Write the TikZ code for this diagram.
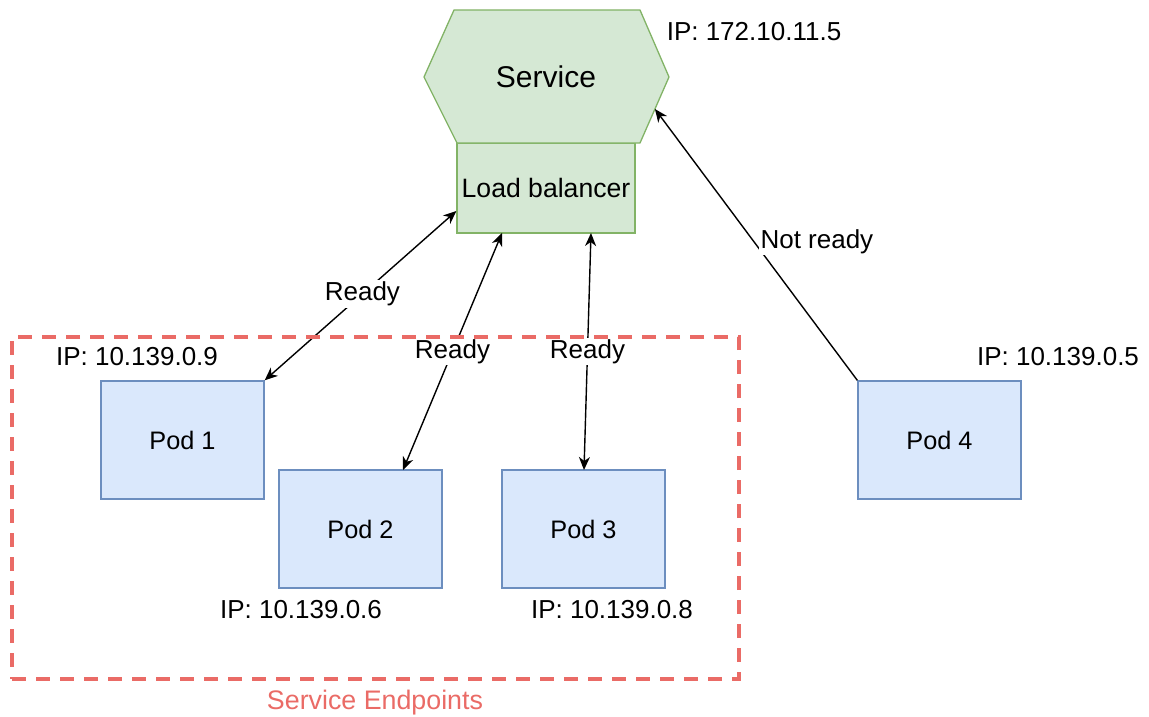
\documentclass[tikz,border=0pt]{standalone}
\usepackage{fontspec}
\setmainfont{Liberation Sans}
\usetikzlibrary{arrows.meta,calc}

\definecolor{lbfill}{HTML}{D5E8D4}
\definecolor{lbline}{HTML}{82B366}
\definecolor{podfill}{HTML}{DAE8FC}
\definecolor{podline}{HTML}{6C8EBF}
\definecolor{epred}{HTML}{EA6B66}

\tikzset{
  x=1pt, y=-1pt,
  podbox/.style={draw=podline, fill=podfill, line width=1.3pt, inner sep=0pt,
                 minimum width=163pt, minimum height=118pt,
                 font=\fontsize{25.3}{30}\selectfont},
  greenbox/.style={draw=lbline, fill=lbfill, line width=1.3pt},
  iplabel/.style={inner sep=0pt, font=\fontsize{26}{31}\selectfont},
  edgelabel/.style={fill=white, inner sep=1.5pt, font=\fontsize{26}{31}\selectfont},
  link/.style={line width=1.4pt, black, >={Stealth[length=13pt, width=11pt, inset=4pt]}},
}

\begin{document}
\begin{tikzpicture}
\useasboundingbox (0,0) rectangle (1149,717);

% Load balancer below the service hexagon
\node[greenbox, minimum width=178pt, minimum height=90pt, inner sep=0pt,
      font=\fontsize{26.6}{31}\selectfont] (lb) at (546,188) {Load balancer};

% Service hexagon
\coordinate (h1) at (424,77);
\coordinate (h2) at (454,10);
\coordinate (h3) at (640,10);
\coordinate (h4) at (669,77);
\coordinate (h5) at (640,143);
\coordinate (h6) at (457,143);
\filldraw[greenbox] (h1) -- (h2) -- (h3) -- (h4) -- (h5) -- (h6) -- cycle;
\node[font=\fontsize{30}{36}\selectfont, inner sep=0pt] (svc) at (546,77) {Service};
\coordinate (svcport) at ($(h4)!0.485!(h5)$);

\node[iplabel] (svcip) at (754,32) {IP: 172.10.11.5};

% Pods
\node[podbox] (pod1) at (182.5,440) {Pod 1};
\node[podbox] (pod2) at (360.5,529) {Pod 2};
\node[podbox] (pod3) at (583.5,529) {Pod 3};
\node[podbox] (pod4) at (939.5,440) {Pod 4};

\node[iplabel] (ip1) at (137,357) {IP: 10.139.0.9};
\node[iplabel] (ip2) at (301,610) {IP: 10.139.0.6};
\node[iplabel] (ip3) at (612,610) {IP: 10.139.0.8};
\node[iplabel] (ip4) at (1058,357) {IP: 10.139.0.5};

% Connection end points on the load balancer
\coordinate (lbA) at (lb.west |- 0,211);
\coordinate (lbB) at (502,233);
\coordinate (lbC) at (591,233);
\coordinate (p2top) at (403,470);
\coordinate (p3top) at (584,470);

% Readiness connectors
\draw[link, <->] (pod1.north east) -- node[edgelabel, pos=0.51] (r1) {Ready} (lbA);
\draw[link, <->] (p2top) -- node[edgelabel, pos=0.5] (r2) {Ready} (lbB);
\draw[link, <->] (p3top) -- node[edgelabel, pos=0.5] (r3) {Ready} (lbC);
\draw[link, ->] (pod4.north west) -- node[edgelabel, pos=0.511, xshift=63pt] (r4) {Not ready} (svcport);

% Endpoints group
\node[draw=epred, line width=4pt, dash pattern=on 14pt off 10pt,
      minimum width=727pt, minimum height=342pt, inner sep=0pt] (endpoints) at (375.5,508) {};
\node[text=epred, inner sep=0pt, font=\fontsize{26.8}{32}\selectfont] (eplabel) at (375,703) {Service Endpoints};
\end{tikzpicture}
\end{document}
